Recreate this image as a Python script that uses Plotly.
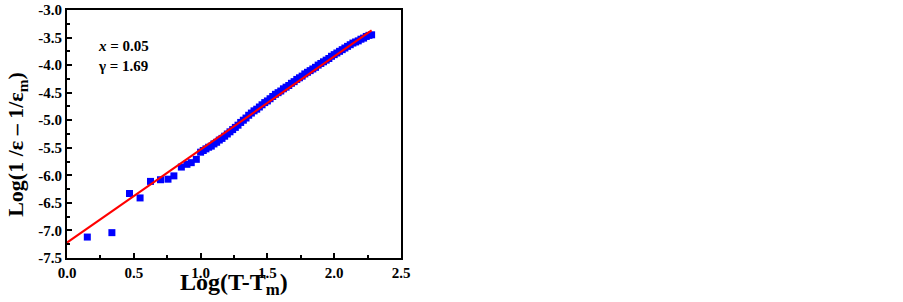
import plotly.graph_objects as go

# Measured points: Log(T-Tm) vs Log(1/eps - 1/eps_m)
x_data = [0.152, 0.336, 0.468, 0.547, 0.625, 0.70, 0.756, 0.80, 0.856, 0.898, 0.93, 0.968,
          1.00, 1.02, 1.04, 1.06, 1.08, 1.10, 1.12, 1.14, 1.16, 1.18, 1.20, 1.22, 1.24, 1.26,
          1.28, 1.30, 1.32, 1.34, 1.36, 1.38, 1.40, 1.42, 1.44, 1.46, 1.48, 1.50, 1.52, 1.54,
          1.56, 1.58, 1.60, 1.62, 1.64, 1.66, 1.68, 1.70, 1.72, 1.74, 1.76, 1.78, 1.80, 1.82,
          1.84, 1.86, 1.88, 1.90, 1.92, 1.94, 1.96, 1.98, 2.00, 2.02, 2.04, 2.06, 2.08, 2.10,
          2.12, 2.14, 2.16, 2.18, 2.20, 2.22, 2.24, 2.26, 2.28]
y_data = [-7.12, -7.04, -6.33, -6.41, -6.11, -6.08, -6.07, -6.01, -5.85, -5.80, -5.77, -5.71,
          -5.58, -5.55, -5.52, -5.49, -5.47, -5.43, -5.40, -5.36, -5.33, -5.29, -5.25, -5.21,
          -5.17, -5.13, -5.09, -5.04, -5.00, -4.96, -4.91, -4.87, -4.83, -4.80, -4.76, -4.72,
          -4.68, -4.65, -4.61, -4.57, -4.53, -4.50, -4.47, -4.43, -4.40, -4.37, -4.33, -4.30,
          -4.26, -4.23, -4.20, -4.16, -4.13, -4.10, -4.07, -4.04, -4.00, -3.97, -3.94, -3.91,
          -3.88, -3.84, -3.81, -3.78, -3.75, -3.72, -3.69, -3.66, -3.63, -3.60, -3.58, -3.56,
          -3.53, -3.51, -3.48, -3.46, -3.45]

# Linear fit line endpoints
fit_x = [0.0, 2.28]
fit_y = [-7.22, -3.37]

x_ticks = [0.0, 0.5, 1.0, 1.5, 2.0, 2.5]
y_ticks = [-7.5, -7.0, -6.5, -6.0, -5.5, -5.0, -4.5, -4.0, -3.5, -3.0]

FONT = "Liberation Serif"

fig = go.Figure()
fig.add_trace(go.Scatter(x=x_data, y=y_data, mode="markers",
                         marker=dict(symbol="square", size=7, color="#0000FF", line=dict(width=0)),
                         showlegend=False))
fig.add_trace(go.Scatter(x=fit_x, y=fit_y, mode="lines",
                         line=dict(color="#FF0000", width=2), showlegend=False))

axis_common = dict(showline=True, linecolor="black", linewidth=2, mirror=True,
                   ticks="inside", ticklen=5, tickwidth=1.5, tickcolor="black",
                   showgrid=False, zeroline=False, automargin=False,
                   tickfont=dict(family=FONT, size=15, color="black", weight="bold"))

fig.update_xaxes(range=[0, 2.5], tickvals=x_ticks,
                 ticktext=[f"{v:.1f}" for v in x_ticks],
                 minor=dict(dtick=0.25, ticks="inside", ticklen=3, tickcolor="black", tickwidth=1.5),
                 **axis_common)
fig.update_yaxes(range=[-7.5, -3.0], tickvals=y_ticks,
                 ticktext=[f"{v:.1f}" for v in y_ticks],
                 minor=dict(dtick=0.25, ticks="inside", ticklen=3, tickcolor="black", tickwidth=1.5),
                 **axis_common)

fig.add_annotation(text="<b>Log(T-T<sub>m</sub>)</b>", xref="paper", yref="paper",
                   x=0.5, y=-0.105, yanchor="middle", xanchor="center", showarrow=False,
                   font=dict(family=FONT, size=24, color="black"))
fig.add_annotation(text="<b>Log(1 /ε – 1/ε<sub>m</sub>)</b>", xref="paper", yref="paper",
                   x=-0.15, y=0.46, xanchor="center", yanchor="middle", textangle=-90,
                   showarrow=False, font=dict(family=FONT, size=22, color="black"))
fig.add_annotation(text="<b><i>x</i> = 0.05<br>γ = 1.69</b>", xref="paper", yref="paper",
                   x=0.088, y=0.895, xanchor="left", yanchor="top", align="left",
                   showarrow=False, font=dict(family=FONT, size=15, color="black"))

fig.update_layout(width=903, height=302, margin=dict(l=67, r=502, t=10, b=44),
                  plot_bgcolor="white", paper_bgcolor="white")

fig.write_html("out.html", config={"displayModeBar": False},
               post_script="document.body.style.margin='0';")
